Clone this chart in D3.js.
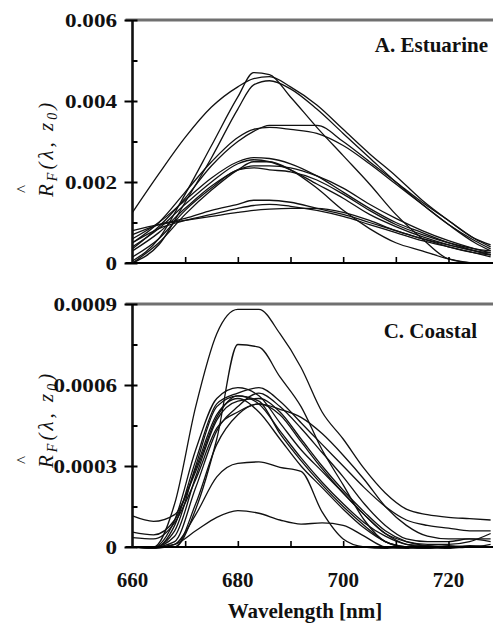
<!DOCTYPE html>
<html>
<head>
<meta charset="utf-8">
<script src="https://cdn.jsdelivr.net/npm/d3@7"></script>
<style>
  body { margin: 0; background: #fff; }
  svg { display: block; }
</style>
</head>
<body>
<svg id="chart" width="493" height="628"></svg>
<script>
// ---- Data: fluorescence reflectance spectra ----
const wavelengthsA = [660, 665, 670, 675, 680, 683, 686, 690, 695, 700, 705, 710, 715, 720, 725, 728];
const estuarine1  = [0.00125, 0.0022, 0.0031, 0.00385, 0.00435, 0.00455, 0.0046, 0.00435, 0.0039, 0.0033, 0.0027, 0.00215, 0.00155, 0.00105, 0.0006, 0.00045];
const estuarine2  = [0.00005, 0.0006, 0.0017, 0.0029, 0.0041, 0.0047, 0.00465, 0.0041, 0.00335, 0.00265, 0.00195, 0.0012, 0.0006, 0.0001, 0, 0];
const estuarine3  = [0, 0.00045, 0.0015, 0.0026, 0.0038, 0.0044, 0.0045, 0.0043, 0.0038, 0.0032, 0.0026, 0.002, 0.00145, 0.00095, 0.00055, 0.00035];
const estuarine4  = [0.00035, 0.0009, 0.0016, 0.0024, 0.003, 0.00325, 0.0034, 0.0034, 0.0034, 0.003, 0.0025, 0.002, 0.0015, 0.00105, 0.0006, 0.0004];
const estuarine5  = [0.0005, 0.001, 0.00175, 0.0025, 0.0031, 0.0033, 0.00335, 0.0033, 0.0032, 0.0029, 0.00245, 0.00195, 0.00145, 0.00095, 0.0005, 0.0003];
const estuarine6  = [0.0006, 0.001, 0.00155, 0.0021, 0.0025, 0.0026, 0.00258, 0.00245, 0.00215, 0.00175, 0.00135, 0.001, 0.00075, 0.0005, 0.0003, 0.0002];
const estuarine7  = [0.0004, 0.00085, 0.00145, 0.002, 0.00245, 0.00255, 0.0025, 0.0023, 0.00195, 0.0016, 0.0012, 0.0009, 0.00065, 0.00045, 0.0003, 0.0002];
const estuarine8  = [0.0003, 0.00075, 0.00135, 0.0019, 0.0023, 0.0024, 0.0024, 0.00235, 0.00215, 0.00185, 0.00145, 0.0011, 0.0008, 0.00055, 0.00035, 0.00025];
const estuarine9  = [0.00015, 0.0006, 0.0013, 0.00185, 0.0023, 0.00235, 0.0023, 0.00225, 0.00205, 0.0017, 0.0013, 0.00095, 0.0007, 0.0005, 0.00035, 0.0003];
const estuarine10 = [0, 0.0005, 0.0012, 0.0018, 0.0023, 0.0025, 0.0025, 0.0023, 0.00185, 0.0013, 0.00085, 0.0005, 0.0003, 0.0001, 0, 0];
const estuarine11 = [0.0007, 0.00095, 0.0011, 0.0013, 0.00145, 0.00155, 0.00155, 0.0015, 0.00135, 0.0012, 0.001, 0.0008, 0.0006, 0.00045, 0.0003, 0.00025];
const estuarine12 = [0.0008, 0.00095, 0.00105, 0.00115, 0.00125, 0.0013, 0.00133, 0.00135, 0.00135, 0.00125, 0.00105, 0.0008, 0.0006, 0.0004, 0.00025, 0.0002];
const estuarine13 = [0.0005, 0.00085, 0.00105, 0.0012, 0.00135, 0.00142, 0.00145, 0.0014, 0.0013, 0.00115, 0.00095, 0.00075, 0.00055, 0.0004, 0.00025, 0.00015];

const wavelengthsC = [660, 664, 668, 672, 676, 680, 684, 688, 692, 696, 700, 704, 708, 712, 716, 720, 724, 728];
const coastal1  = [0, 0, 0.00016, 0.00052, 0.00079, 0.00088, 0.00088, 0.00079, 0.000665, 0.0005, 0.0004, 0.00029, 0.0002, 0.00014, 0.00012, 0.00011, 0.000105, 0.0001];
const coastal2  = [0, 0, 0, 0.00014, 0.0004, 0.00075, 0.00074, 0.00063, 0.00052, 0.00036, 0.00023, 0.0001, 0.00002, 0, -0.000005, 0, 0, 0];
const coastal3  = [0, 0, 0.0001, 0.00036, 0.00055, 0.00059, 0.00056, 0.00046, 0.00036, 0.00028, 0.0002, 0.00012, 0.00005, 0.00001, 0, -0.000005, 0, 0];
const coastal4  = [0, -0.000005, 0.00008, 0.00032, 0.00053, 0.00057, 0.00059, 0.00054, 0.00046, 0.00038, 0.0003, 0.00022, 0.00015, 0.0001, 0.00008, 0.00007, 0.00006, 0.00006];
const coastal5  = [0, 0, 0.00006, 0.0003, 0.00052, 0.00056, 0.00054, 0.00042, 0.00032, 0.00023, 0.00015, 0.00008, 0.00002, 0, 0, 0.000005, 0, 0.00001];
const coastal6  = [0, 0, 0.00004, 0.00026, 0.00047, 0.00054, 0.00055, 0.0005, 0.0004, 0.0003, 0.00021, 0.00013, 0.00006, 0.00002, 0.000005, 0, 0, 0];
const coastal7  = [0, 0, 0.00002, 0.00022, 0.00043, 0.00052, 0.00057, 0.00052, 0.00044, 0.00035, 0.00026, 0.00016, 0.00008, 0.00003, 0.00002, 0.00002, 0.00003, 0.00002];
const coastal8  = [0, 0, 0, 0.00016, 0.00038, 0.00049, 0.00053, 0.00051, 0.00048, 0.00042, 0.00034, 0.00025, 0.00015, 0.00008, 0.00004, 0.00003, 0.00003, 0.00003];
const coastal9  = [0.000115, 0.000095, 0.00012, 0.00028, 0.00048, 0.00056, 0.00053, 0.00043, 0.00033, 0.00024, 0.00016, 0.00009, 0.00004, 0.00001, 0.000005, 0, 0.000005, 0];
const coastal10 = [0.000055, 0.000045, 0.0001, 0.00029, 0.00049, 0.00055, 0.0005, 0.0004, 0.0003, 0.00022, 0.00014, 0.00007, 0.00002, 0, -0.000005, 0, 0, 0];
const coastal11 = [0.000035, 0.00003, 0.00009, 0.00025, 0.00044, 0.0005, 0.00053, 0.00049, 0.00039, 0.00029, 0.0002, 0.00012, 0.00005, 0.00002, 0.00001, 0.00001, 0.00002, 0.00005];
const coastal12 = [0, -0.000005, 0.00001, 0.00012, 0.00026, 0.00031, 0.000315, 0.000295, 0.00028, 0.00013, 0.00003, 0, -0.000005, 0, 0, 0, 0, 0];
const coastal13 = [0, 0, 0.00001, 0.00006, 0.00011, 0.000135, 0.000125, 0.0001, 0.000085, 0.000089, 0.00008, 0.00004, 0, -0.000005, 0, 0, 0, 0];

const xMinorTicks = [670, 680, 690, 700, 710, 720];
const xTickValues = [660, 680, 700, 720];
const xTickLabels = ["660", "680", "700", "720"];
const yTicksA = [0, 0.002, 0.004, 0.006];
const yTickLabelsA = ["0", "0.002", "0.004", "0.006"];
const yMinorA = [0.001, 0.003, 0.005];
const yTicksC = [0, 0.0003, 0.0006, 0.0009];
const yTickLabelsC = ["0", "0.0003", "0.0006", "0.0009"];
const yMinorC = [0.00015, 0.00045, 0.00075];

const panels = [
  {
    title: "A. Estuarine",
    wavelengths: wavelengthsA,
    series: [estuarine1, estuarine2, estuarine3, estuarine4, estuarine5, estuarine6, estuarine7,
             estuarine8, estuarine9, estuarine10, estuarine11, estuarine12, estuarine13],
    yDomain: [0, 0.006], yTicks: yTicksA, yLabels: yTickLabelsA, yMinor: yMinorA,
    top: 20, bottom: 263, showX: false, titleX: 488, titleY: 52, labelStart: 197
  },
  {
    title: "C. Coastal",
    wavelengths: wavelengthsC,
    series: [coastal1, coastal2, coastal3, coastal4, coastal5, coastal6, coastal7,
             coastal8, coastal9, coastal10, coastal11, coastal12, coastal13],
    yDomain: [0, 0.0009], yTicks: yTicksC, yLabels: yTickLabelsC, yMinor: yMinorC,
    top: 304, bottom: 547, showX: true, titleX: 477, titleY: 338, labelStart: 468
  }
];

const svg = d3.select("#chart");
const W = 493;
const left = 132.5;
const x = d3.scaleLinear().domain([660, 728.45]).range([left, W]);
const serif = "'Liberation Serif', 'Times New Roman', serif";

panels.forEach(p => {
  const y = d3.scaleLinear().domain(p.yDomain).range([p.bottom, p.top]);
  const g = svg.append("g");

  // spectra
  const line = d3.line()
    .x((d, i) => x(p.wavelengths[i]))
    .y(d => y(d))
    .curve(d3.curveMonotoneX);
  g.selectAll("path.spec").data(p.series).join("path")
    .attr("class", "spec")
    .attr("d", line)
    .attr("fill", "none")
    .attr("stroke", "#111")
    .attr("stroke-width", 1.3);

  // top frame line
  g.append("line")
    .attr("x1", left - 7).attr("x2", W)
    .attr("y1", p.top).attr("y2", p.top)
    .attr("stroke", "#707070").attr("stroke-width", 3);

  // bottom axis with inward ticks
  const xAxis = d3.axisBottom(x).tickValues(xMinorTicks).tickSize(-6).tickFormat("");
  const gx = g.append("g").attr("transform", `translate(0,${p.bottom})`).call(xAxis);
  gx.select(".domain").remove();
  gx.selectAll(".tick line").attr("stroke", "#000").attr("stroke-width", 1.6);
  g.append("line")
    .attr("x1", left - 7).attr("x2", W)
    .attr("y1", p.bottom).attr("y2", p.bottom)
    .attr("stroke", "#000").attr("stroke-width", 2.2);

  // left axis: major ticks cross the axis, minor ticks point inward
  g.append("line")
    .attr("x1", left).attr("x2", left)
    .attr("y1", p.top).attr("y2", p.bottom)
    .attr("stroke", "#111").attr("stroke-width", 2.6);
  const yAxisMajor = d3.axisLeft(y).tickValues(p.yTicks).tickSize(8).tickFormat("");
  const gy = g.append("g").attr("transform", `translate(${left},0)`).call(yAxisMajor);
  gy.select(".domain").remove();
  gy.selectAll(".tick line").attr("x2", -8).attr("x1", 5).attr("stroke", "#000").attr("stroke-width", 2);
  const yAxisMinor = d3.axisRight(y).tickValues(p.yMinor).tickSize(5).tickFormat("");
  const gyMinor = g.append("g").attr("transform", `translate(${left},0)`).call(yAxisMinor);
  gyMinor.select(".domain").remove();
  gyMinor.selectAll(".tick line").attr("stroke", "#000").attr("stroke-width", 2);

  // y tick labels
  p.yTicks.forEach((v, i) => {
    g.append("text")
      .attr("transform", `translate(117,${y(v) + 6.5}) scale(1.25,1)`)
      .attr("text-anchor", "end")
      .attr("font-family", serif)
      .attr("font-size", 18.5)
      .attr("font-weight", "bold")
      .attr("fill", "#111")
      .text(p.yLabels[i]);
  });

  // panel title
  g.append("text")
    .attr("x", p.titleX)
    .attr("y", p.titleY)
    .attr("text-anchor", "end")
    .attr("font-family", serif)
    .attr("font-size", 21)
    .attr("font-weight", "bold")
    .attr("fill", "#111")
    .text(p.title);

  // rotated y-axis title: R-hat_F(λ, z_0), reading upward from labelStart
  const ttl = g.append("text")
    .attr("transform", `translate(53,${p.labelStart}) rotate(-90)`)
    .attr("text-anchor", "start")
    .attr("font-family", serif)
    .attr("font-size", 21)
    .attr("font-style", "italic")
    .attr("letter-spacing", 3)
    .attr("fill", "#111");
  ttl.append("tspan").text("R");
  ttl.append("tspan").attr("font-size", 14).attr("dy", 4).text("F");
  ttl.append("tspan").attr("dy", -4).text("(λ, z");
  ttl.append("tspan").attr("font-size", 14).attr("dy", 4).text("0");
  ttl.append("tspan").attr("dy", -4).text(")");
  // hat over the R
  g.append("text")
    .attr("transform", `translate(28,${p.labelStart - 8}) rotate(-90)`)
    .attr("text-anchor", "middle")
    .attr("font-family", serif)
    .attr("font-size", 17)
    .attr("fill", "#111")
    .text("^");

  if (p.showX) {
    xTickValues.forEach((v, i) => {
      g.append("text")
        .attr("x", x(v)).attr("y", 587)
        .attr("text-anchor", "middle")
        .attr("font-family", serif)
        .attr("font-size", 21)
        .attr("font-weight", "bold")
        .attr("fill", "#111")
        .text(xTickLabels[i]);
    });
    g.append("text")
      .attr("x", 305).attr("y", 618)
      .attr("text-anchor", "middle")
      .attr("font-family", serif)
      .attr("font-size", 21)
      .attr("font-weight", "bold")
      .attr("fill", "#111")
      .text("Wavelength [nm]");
  }
});
</script>
</body>
</html>
